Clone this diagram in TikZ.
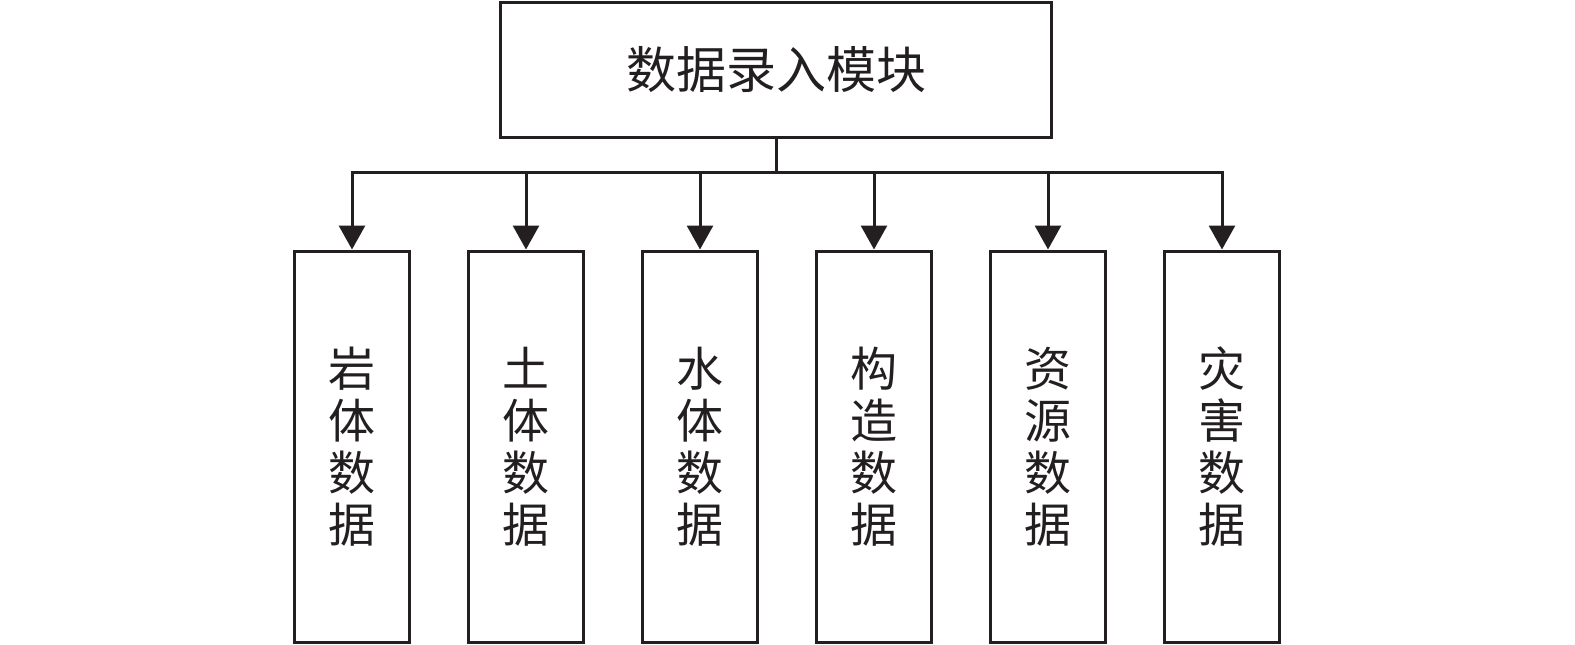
\documentclass[tikz,border=0pt]{standalone}
\usepackage{fontspec}
\newfontfamily\cjk{Noto Sans CJK SC}
\usetikzlibrary{arrows.meta}
\definecolor{ink}{HTML}{231F20}
\begin{document}
\begin{tikzpicture}[x=1pt,y=-1pt,
  box/.style={draw=ink,line width=3pt,inner sep=0pt,text=ink},
  topbox/.style={box,minimum width=551pt,minimum height=135.5pt,font=\cjk\fontsize{50}{52}\selectfont},
  leafbox/.style={box,minimum width=115pt,minimum height=391pt,align=center,font=\cjk\fontsize{47}{52}\selectfont},
  conn/.style={draw=ink,line width=3pt},
  arr/.style={conn,-{Triangle[width=26pt,length=24pt]}}]
\useasboundingbox (0,0) rectangle (1575,645);
\node[topbox] (top) at (776,70) {数据录入模块};
\foreach \i/\x/\t in {1/352/{岩\\体\\数\\据},2/526/{土\\体\\数\\据},3/700/{水\\体\\数\\据},4/874/{构\\造\\数\\据},5/1048/{资\\源\\数\\据},6/1222/{灾\\害\\数\\据}}{
  \node[leafbox] (b\i) at (\x,446.5) {\t};
}
\coordinate (bus) at (776,172);
\draw[conn] (top.south) -- (bus);
\draw[conn,line cap=rect] (b1.north |- bus) -- (b6.north |- bus);
\foreach \i in {1,...,6}{
  \draw[arr] (b\i.north |- bus) -- (b\i.north);
}
\end{tikzpicture}
\end{document}
